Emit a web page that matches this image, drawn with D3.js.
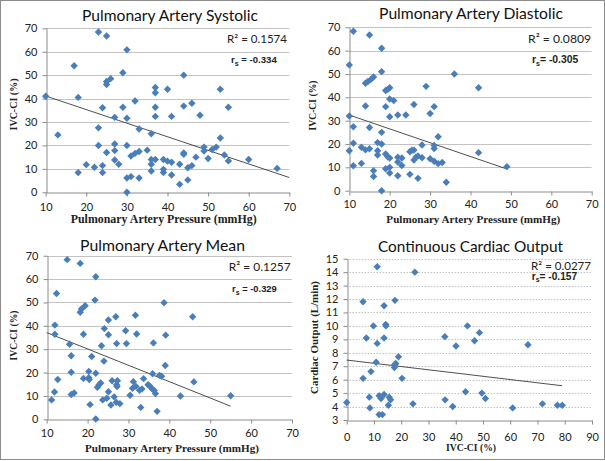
<!DOCTYPE html>
<html><head><meta charset="utf-8">
<script src="https://cdn.jsdelivr.net/npm/d3@7"></script>
<style>body{margin:0;background:#fff} svg{display:block}</style>
</head><body><svg id="c" width="605" height="461"></svg>
<script>
// ---------- DATA ----------
const systolic = [[10,41],[13,24.5],[17,54],[18,40.5],[18,8.4],[20,11.8],[22,10.7],[23,68.4],[23,27.5],[23,20],[24,36.1],[24,11.4],[24,8.4],[25,66.7],[25,46],[25,47.3],[26,48.5],[25,17],[27,32],[27,20.6],[27,17.8],[27,13.8],[28,12],[29,51],[29,36.3],[30,60.8],[30,31.6],[30,20],[30,6.1],[30,0],[31,15.5],[31,6.7],[32,39],[32,16.6],[33,17.4],[33,27],[33,6.1],[35,18],[36,25],[36,14],[36,12],[36,9.1],[37,14],[37,44.7],[37,42.5],[37,36.3],[37,32.4],[39,14],[39,9.8],[39,8.4],[40,44],[40,13.3],[41,32.4],[41,12.8],[41,7.4],[43,12],[43,3.4],[44,50],[44,36.8],[44,16.8],[44,16.2],[45,10.5],[45,5.3],[46,38],[46,11.4],[47,15],[48,32.9],[49,19.3],[49,17.6],[50,14.4],[51,18.3],[52,19.3],[53,44],[53,23.2],[54,15.9],[55,36.3],[55,13.4],[60,14],[67,10.2]];
const systolicTrend = [[10,41.1],[70,6.3]];

const diastolic = [[10,53.9],[10,32],[10,17.1],[11,68.3],[11,27.4],[11,20.3],[11,10.7],[13,11.7],[13,18.6],[14,17.5],[15,18],[14,46],[14.6,46.8],[15.3,47.6],[16,48.7],[14,36.3],[15,66.7],[15,27.1],[16,8.6],[16,6.1],[17,20.6],[17,17.1],[17,15.3],[18,61],[18,51],[18,25],[18,20],[18,0],[19,36],[19,42.9],[19,15.7],[19,9.4],[19.5,43.4],[19.5,14.5],[20,44.1],[20,39.3],[20,31.7],[20,14],[20,10],[20,7.6],[21,38.6],[22,32.4],[22,14.3],[22,12.3],[22,6.4],[23,14],[23,10.8],[24,32.4],[25,16.7],[25.5,17.3],[25,7],[26,36.9],[26,17.4],[26,13.1],[26.5,14.3],[27,5.3],[27,14.9],[28,14.1],[28,19.6],[29,44.7],[30,33.1],[30,13.7],[31,19.4],[31,18.1],[31,36],[31,12.6],[32,23.1],[32,11.6],[33,12.1],[34,3.6],[36,50],[42,44.1],[42,16.3],[49,10.3]];
const diastolicTrend = [[10,32.4],[49,9.3]];

const mean = [[11.2,8.3],[11.9,11.7],[12,40.3],[12,36.4],[12.4,53.8],[12.7,17],[15,68.3],[15.6,32.1],[16,27.2],[16,20.1],[16,10.6],[16.7,11.3],[18.2,66.7],[18.2,45.8],[18.5,47.2],[19.4,48.6],[19,36.4],[19,17.5],[20.4,17],[20.3,17.8],[20.3,20.5],[20.6,6.3],[21,26.9],[22,61],[21.8,51],[22,19.7],[22,0.1],[22.4,13.7],[22.8,14.8],[23.2,15.5],[23.4,31.5],[23.7,8.3],[24,24.9],[24.1,38.8],[24.7,9],[25.1,42.5],[25.1,36.2],[25.1,11.8],[25.7,6.1],[26,16.5],[26.5,9.6],[26.9,43.9],[27.1,32.4],[27.1,14.8],[27.3,16.5],[27.2,14],[27,7.3],[27.9,6.7],[29.3,37.9],[29.5,32.4],[30.4,10.3],[31,13.3],[31.2,16.1],[31.7,44.5],[31.8,14.1],[32,36.5],[32.7,12.4],[33,5.1],[33.3,13],[33.7,17.4],[34.8,14.8],[35.2,14.3],[35.8,13],[35.9,19.5],[36.1,32.7],[36.3,12.3],[36.6,11],[37,3.4],[37.6,18.8],[38.1,18.4],[38.7,49.9],[39,23],[39.1,36],[42.7,10],[45.7,43.9],[46,16],[55,10.1]];
const meanTrend = [[10,37.1],[55,5.6]];

const cardiac = [[0,4.3],[6,11.8],[6,6.1],[7.2,9.1],[8.3,4.7],[8.5,3.9],[8.9,6.6],[9.8,10],[10.8,7.3],[11.2,8.7],[11.2,14.4],[11.9,4.8],[11.9,3.4],[12.6,4.6],[13.1,3.4],[13.7,11.5],[13.7,9.1],[13.7,4.9],[14.3,10.1],[14.4,10],[15.3,4.1],[15.6,4.7],[16.1,4.5],[17.5,7.1],[17.5,6.9],[18,7.2],[17.7,11.9],[19,7.7],[20.3,6.1],[24.3,4.2],[25,14],[36,9.2],[36.1,4.5],[38.9,4],[40.1,8.5],[43.6,5.1],[44.3,10],[46.9,8.9],[48.7,9.5],[49.6,5],[50.9,4.6],[60.9,3.9],[66.5,8.6],[71.8,4.2],[77.3,4.1],[79.1,4.1]];
const cardiacTrend = [[0,7.46],[79,5.55]];

const titles = ["Pulmonary Artery Systolic","Pulmonary Artery Diastolic","Pulmonary Artery Mean","Continuous Cardiac Output"];
const r2Labels = ["R\u00B2 = 0.1574","R\u00B2 = 0.0809","R\u00B2 = 0.1257","R\u00B2 = 0.0277"];
const rsValues = [" = -0.334","= -0.305"," = -0.329","= -0.157"];
const paTicks = [10,20,30,40,50,60,70];
const ivcTicks = [0,10,20,30,40,50,60,70];
const ivcPctTicks = [0,10,20,30,40,50,60,70,80,90];
const coTicks = [3,4,5,6,7,8,9,10,11,12,13,14,15];
const xLabels = ["Pulmonary Artery Pressure (mmHg)","Pulmonary Artery Pressure (mmHg)","Pulmonary Artery Pressure (mmHg)","IVC-CI (%)"];
const yLabels = ["IVC-CI (%)","IVC-CI (%)","IVC-CI (%)","Cardiac Output (L/min)"];

// ---------- LAYOUT ----------
const layout = [
 {data:systolic, trend:systolicTrend, xd:[10,70], yd:[0,70], xt:paTicks, yt:ivcTicks, x0:45.7,x1:289.3,y0:192.3,y1:28.3, dotted:false,
  title:[170,20.5,176], r2:[287,43.3,60], rs:[231,63.3,46], xl:[163.7,223,186], xtb:210.5, yl:[13,104.5,52]},
 {data:diastolic, trend:diastolicTrend, xd:[10,70], yd:[0,70], xt:paTicks, yt:ivcTicks, x0:349.3,x1:591.7,y0:190.7,y1:27.3, dotted:false,
  title:[471,18.5,184], r2:[591,42.7,63], rs:[532,63.3,47], xl:[473.3,222.5,174], xtb:207.3, yl:[312,105.5,50]},
 {data:mean, trend:meanTrend, xd:[10,70], yd:[0,70], xt:paTicks, yt:ivcTicks, x0:46.7,x1:292,y0:419.3,y1:255.7, dotted:false,
  title:[162.5,250.7,165], r2:[290.7,270.7,62], rs:[232,292,45], xl:[172,452,174], xtb:436.3, yl:[13,335.5,50]},
 {data:cardiac, trend:cardiacTrend, xd:[0,90], yd:[3,15], xt:ivcPctTicks, yt:coTicks, x0:346.7,x1:592,y0:420,y1:258.7, dotted:true,
  title:[470.5,252.3,185], r2:[591,269.7,60], rs:[531.7,279.7,46], xl:[471,450.7,50], xtb:440.5, yl:[314,337.5,113]}
];

const svg = d3.select("#c");
svg.append("rect").attr("x",0.5).attr("y",0.5).attr("width",604).attr("height",459)
  .attr("fill","#fff").attr("stroke","#8c8c8c").attr("stroke-width",1);

function fit(sel, w){
  const n = sel.node(); const fs = parseFloat(sel.attr("font-size"));
  const l = n.getComputedTextLength();
  if(l>0) sel.attr("font-size", (fs*w/l).toFixed(2));
}

layout.forEach((p,i)=>{
  const x = d3.scaleLinear().domain(p.xd).range([p.x0,p.x1]);
  const y = d3.scaleLinear().domain(p.yd).range([p.y0,p.y1]);
  const g = svg.append("g");
  g.selectAll(".grid").data(p.yt.filter(v=>v!==p.yd[0])).enter().append("line")
    .attr("x1",p.x0).attr("x2",p.x1)
    .attr("y1",d=>Math.round(y(d))+0.5).attr("y2",d=>Math.round(y(d))+0.5)
    .attr("stroke", p.dotted? "#a6a6a6":"#c3c3c3").attr("stroke-width",1)
    .attr("stroke-dasharray", p.dotted? "1,2":null);
  const xa = g.append("g").attr("transform",`translate(0,${Math.round(p.y0)+0.5})`)
    .call(d3.axisBottom(x).tickValues(p.xt).tickSize(4).tickSizeOuter(0));
  xa.select(".domain").attr("stroke","#8c8c8c");
  xa.selectAll(".tick line").attr("stroke","#8c8c8c");
  xa.selectAll(".tick text").attr("font-family","Lato").attr("font-size",11).attr("fill","#222")
    .attr("dy",null).attr("y", p.xtb - Math.round(p.y0));
  const ya = g.append("g").attr("transform",`translate(${Math.round(p.x0)+0.5},0)`)
    .call(d3.axisLeft(y).tickValues(p.yt).tickSize(4).tickSizeOuter(0));
  ya.select(".domain").attr("stroke","#8c8c8c");
  ya.selectAll(".tick line").attr("stroke", "#8c8c8c");
  ya.selectAll(".tick text").attr("font-family","Lato").attr("font-size",11).attr("fill","#222").attr("x",-9);
  g.append("line").attr("x1",x(p.trend[0][0])).attr("y1",y(p.trend[0][1]))
    .attr("x2",x(p.trend[1][0])).attr("y2",y(p.trend[1][1]))
    .attr("stroke","#3a3a3a").attr("stroke-width",0.9);
  const r = 3.7;
  g.selectAll(".pt").data(p.data).enter().append("path")
    .attr("d", d=>{const cx=x(d[0]), cy=y(d[1]); return `M${cx},${cy-r}L${cx+r},${cy}L${cx},${cy+r}L${cx-r},${cy}Z`;})
    .attr("fill","#4a7ebb");
  const t = g.append("text").attr("x",p.title[0]).attr("y",p.title[1]).attr("text-anchor","middle")
    .attr("font-family","Lato").attr("font-size",17).attr("fill","#111").text(titles[i]);
  fit(t,p.title[2]);
  const r2 = g.append("text").attr("x",p.r2[0]).attr("y",p.r2[1]).attr("text-anchor","end")
    .attr("font-family","Lato").attr("font-size",13).attr("fill","#222").text(r2Labels[i]);
  fit(r2,p.r2[2]);
  const rs = g.append("text").attr("x",p.rs[0]).attr("y",p.rs[1])
    .attr("font-family","Liberation Sans").attr("font-weight","bold").attr("font-size",9).attr("fill","#222");
  rs.append("tspan").text("r");
  rs.append("tspan").attr("font-size",7).attr("dy",2.5).text("s");
  rs.append("tspan").attr("dy",-2.5).text(rsValues[i]);
  fit(rs,p.rs[2]);
  const xl = g.append("text").attr("x",p.xl[0]).attr("y",p.xl[1]).attr("text-anchor","middle")
    .attr("font-family","Liberation Serif").attr("font-weight","bold").attr("font-size",11).attr("fill","#222").text(xLabels[i]);
  fit(xl,p.xl[2]);
  const yl = g.append("text").attr("transform",`translate(${p.yl[0]},${p.yl[1]}) rotate(-90)`)
    .attr("text-anchor","middle").attr("dominant-baseline","central")
    .attr("font-family","Liberation Serif").attr("font-weight","bold").attr("font-size",11).attr("fill","#222").text(yLabels[i]);
  fit(yl,p.yl[2]);
});
</script></body></html>
